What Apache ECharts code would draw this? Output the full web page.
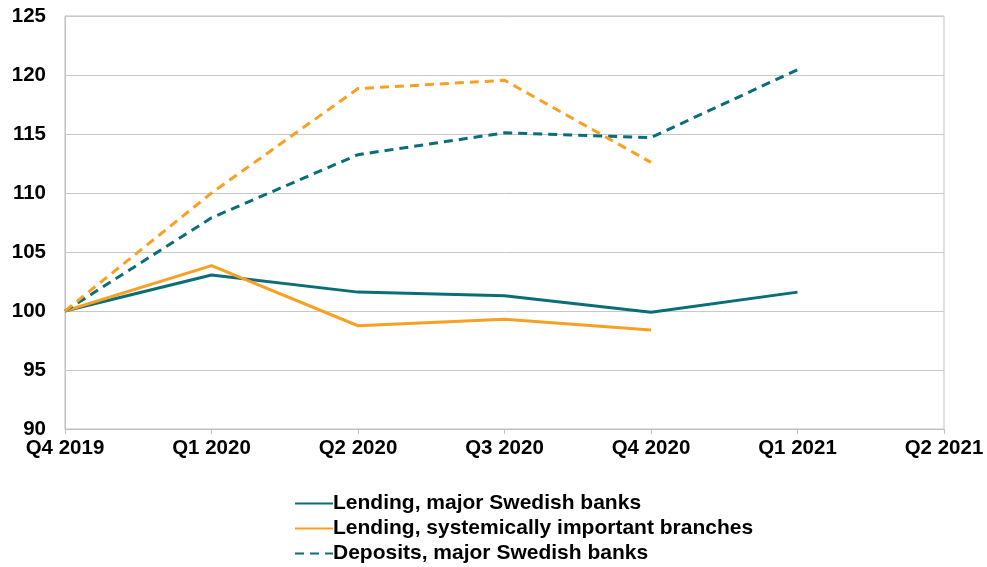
<!DOCTYPE html>
<html>
<head>
<meta charset="utf-8">
<script src="https://cdn.jsdelivr.net/npm/echarts@6/dist/echarts.min.js"></script>
<style>
  html, body { margin: 0; padding: 0; background: #fff; }
  #chart { width: 987px; height: 567px; }
</style>
</head>
<body>
<div id="chart"></div>
<script>
// Quarterly index, Q4 2019 = 100
const quarters = ['Q4 2019', 'Q1 2020', 'Q2 2020', 'Q3 2020', 'Q4 2020', 'Q1 2021', 'Q2 2021'];
const lendingSwedish = [100, 103.05, 101.6, 101.3, 99.9, 101.6];
const lendingBranches = [100, 103.85, 98.75, 99.3, 98.4];
const depositsSwedish = [100, 107.9, 113.25, 115.1, 114.7, 120.45];
const depositsBranches = [100, 110.0, 118.85, 119.55, 112.6];
const yTicks = { min: 90, max: 125, step: 5 };

const TEAL = '#0a6e78';
const ORANGE = '#f7a023';
const FONT = '"Liberation Sans", Arial, sans-serif';

const chart = echarts.init(document.getElementById('chart'));

function line(name, data, color, dashed) {
  return {
    name: name,
    type: 'line',
    data: data,
    symbol: 'none',
    smooth: false,
    lineStyle: { color: color, width: 3, type: dashed ? [9, 6] : 'solid' },
    itemStyle: { color: color },
    emphasis: { disabled: true }
  };
}

chart.setOption({
  animation: false,
  backgroundColor: '#fff',
  grid: {
    left: 65, right: 43, top: 16, bottom: 138,
    show: true, borderColor: '#bfbfbf', borderWidth: 1
  },
  legend: {
    orient: 'vertical',
    left: 289, top: 488, height: 120,
    itemWidth: 38, itemHeight: 3,
    itemGap: 4,
    itemStyle: { opacity: 0 },
    data: ['Lending, major Swedish banks', 'Lending, systemically important branches', 'Deposits, major Swedish banks'],
    textStyle: { fontFamily: FONT, fontSize: 21, fontWeight: 'bold', color: '#000', padding: [0, 0, 0, -5] }
  },
  xAxis: {
    type: 'category',
    data: quarters,
    boundaryGap: false,
    axisLine: { lineStyle: { color: '#bfbfbf', width: 1 } },
    axisTick: { show: true, length: 5, lineStyle: { color: '#bfbfbf' } },
    axisLabel: { fontFamily: FONT, fontSize: 20.5, fontWeight: 'bold', color: '#000', margin: 9 },
    splitLine: { show: false }
  },
  yAxis: {
    type: 'value',
    min: yTicks.min, max: yTicks.max, interval: yTicks.step,
    axisLine: { show: true, lineStyle: { color: '#bfbfbf', width: 1 } },
    axisTick: { show: false },
    axisLabel: { fontFamily: FONT, fontSize: 20.5, fontWeight: 'bold', color: '#000', margin: 19 },
    splitLine: { lineStyle: { color: '#c8c8c8', width: 1 } }
  },
  series: [
    line('Lending, major Swedish banks', lendingSwedish, TEAL, false),
    line('Lending, systemically important branches', lendingBranches, ORANGE, false),
    line('Deposits, major Swedish banks', depositsSwedish, TEAL, true),
    line('Deposits, systemically important branches', depositsBranches, ORANGE, true)
  ]
});
</script>
</body>
</html>
